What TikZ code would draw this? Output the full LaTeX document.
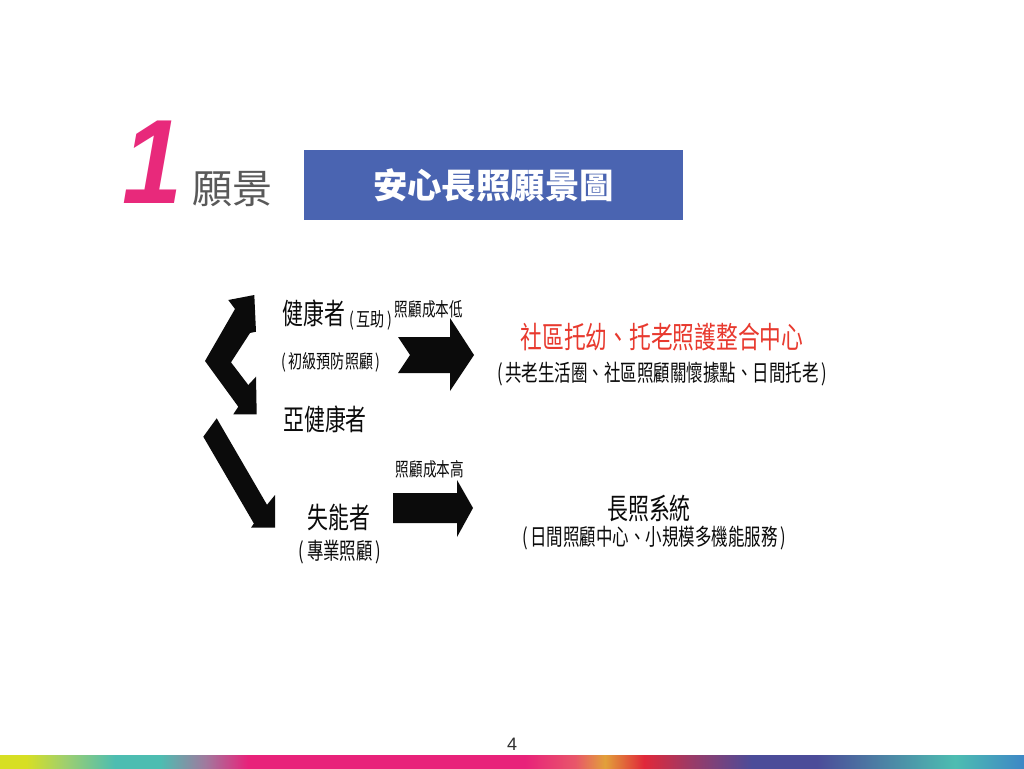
\documentclass[tikz,border=0pt]{standalone}
\usepackage{fontspec}
\usepackage{xcolor}
\usepackage{tikz}
\newfontfamily\cjk{Noto Sans CJK TC}
\newfontfamily\latin{Liberation Sans}
\definecolor{pink1}{HTML}{E8297B}
\definecolor{boxblue}{HTML}{4A64B1}
\definecolor{red1}{HTML}{E8392E}
\definecolor{ink}{HTML}{0B0B0B}
\definecolor{muted}{HTML}{595959}
\definecolor{barA}{HTML}{D7DF23}
\definecolor{barB}{HTML}{9FCF6E}
\definecolor{barC}{HTML}{4DBDB1}
\definecolor{barD}{HTML}{A07A9E}
\definecolor{barE}{HTML}{E8227A}
\definecolor{barF}{HTML}{E8566A}
\definecolor{barG}{HTML}{E2A03A}
\definecolor{barH}{HTML}{E0283A}
\definecolor{barI}{HTML}{9C3A66}
\definecolor{barJ}{HTML}{4B4C99}
\definecolor{barK}{HTML}{3E87C6}

\begin{document}
\begin{tikzpicture}[x=0.75pt,y=-0.75pt,
  bigtxt/.style={font=\cjk\fontsize{21.75pt}{22pt}\selectfont,text=ink,xscale=0.72,inner sep=0pt},
  redtxt/.style={font=\cjk\fontsize{22.5pt}{23pt}\selectfont,text=red1,xscale=0.725,inner sep=0pt},
  subtxt/.style={font=\cjk\fontsize{17.25pt}{18pt}\selectfont,text=ink,xscale=0.717,inner sep=0pt},
  smalltxt/.style={font=\cjk\fontsize{14.25pt}{15pt}\selectfont,text=ink,xscale=0.74,inner sep=0pt},
  costtxt/.style={font=\cjk\fontsize{14.25pt}{15pt}\selectfont,text=ink,xscale=0.716,inner sep=0pt}]
  \useasboundingbox (0,0) rectangle (1024,768);
  \fill[white] (0,0) rectangle (1024,768);
  % heading
  \node[font=\latin\bfseries\itshape\fontsize{90pt}{90pt}\selectfont,text=pink1,inner sep=0pt,xscale=0.9] (num) at (153,162) {1};
  \node[font=\cjk\fontsize{30pt}{30pt}\selectfont,text=muted,inner sep=0pt] (vision) at (232,189) {願景};
  \node[fill=boxblue,minimum width=284.25pt,minimum height=52.5pt,inner sep=0pt,
        font=\cjk\bfseries\fontsize{25.8pt}{26pt}\selectfont,text=white] (title) at (493.5,185) {安心長照願景圖};
  % chevron arrow between the two groups
  \fill[ink] (254.3,295) -- (228.3,300) -- (235,309) -- (205,361) -- (238.3,406.7)
     -- (233.3,414.3) -- (256.7,414.3) -- (256,376.7) -- (248.3,385) -- (231,362.3)
     -- (250,333) -- (256,331.7) -- cycle;
  % down to the disabled
  \fill[ink] (216.7,418.3) -- (267,504.8) -- (275,495) -- (275,527.7) -- (251,527.7)
     -- (253.9,523.5) -- (203.3,436.7) -- cycle;
  % block arrows to the right
  \fill[ink] (398,337) -- (450,337) -- (450,318) -- (474,355) -- (450,391) -- (450,373)
     -- (398,373) -- (410,355) -- cycle;
  \fill[ink] (393,493) -- (457,493) -- (457,480) -- (473,508) -- (457,537) -- (457,523)
     -- (393,523) -- cycle;
  % left column
  \node[bigtxt] (healthy) at (314,313) {健康者};
  \node[smalltxt] (mutual) at (371,320) {(\,互助\,)};
  \node[costtxt] (costlow) at (429,309) {照顧成本低};
  \node[smalltxt] (primary) at (331,362) {(\,初級預防照顧\,)};
  \node[bigtxt] (subhealthy) at (325,419) {亞健康者};
  \node[bigtxt] (disabled) at (339,517) {失能者};
  \node[subtxt] (professional) at (340,552) {(\,專業照顧\,)};
  \node[costtxt] (costhigh) at (430,469) {照顧成本高};
  % right column
  \node[redtxt] (community) at (662,337) {社區托幼、托老照護整合中心};
  \node[subtxt] (communitysub) at (662,374) {(\,共老生活圈、社區照顧關懷據點、日間托老\,)};
  \node[bigtxt] (ltc) at (649,508) {長照系統};
  \node[subtxt] (ltcsub) at (654,538) {(\,日間照顧中心、小規模多機能服務\,)};
  % page number and colour bar
  \node[font=\latin\fontsize{13.5pt}{14pt}\selectfont,text=ink!85,inner sep=0pt] (page) at (512,744) {4};
  \foreach \xa/\ca/\xb/\cb in {0/barA/26/barA,26/barA/65/barB,65/barB/115/barC,115/barC/160/barC,
      160/barC/205/barD,205/barD/248/barE,248/barE/525/barE,525/barE/575/barF,575/barF/605/barG,
      605/barG/644/barH,644/barH/690/barI,690/barI/752/barJ,752/barJ/817/barJ,817/barJ/955/barC,
      955/barC/1024/barK}{
    \shade[left color=\ca,right color=\cb] (\xa,755) rectangle (\xb,768);
  }
\end{tikzpicture}
\end{document}
